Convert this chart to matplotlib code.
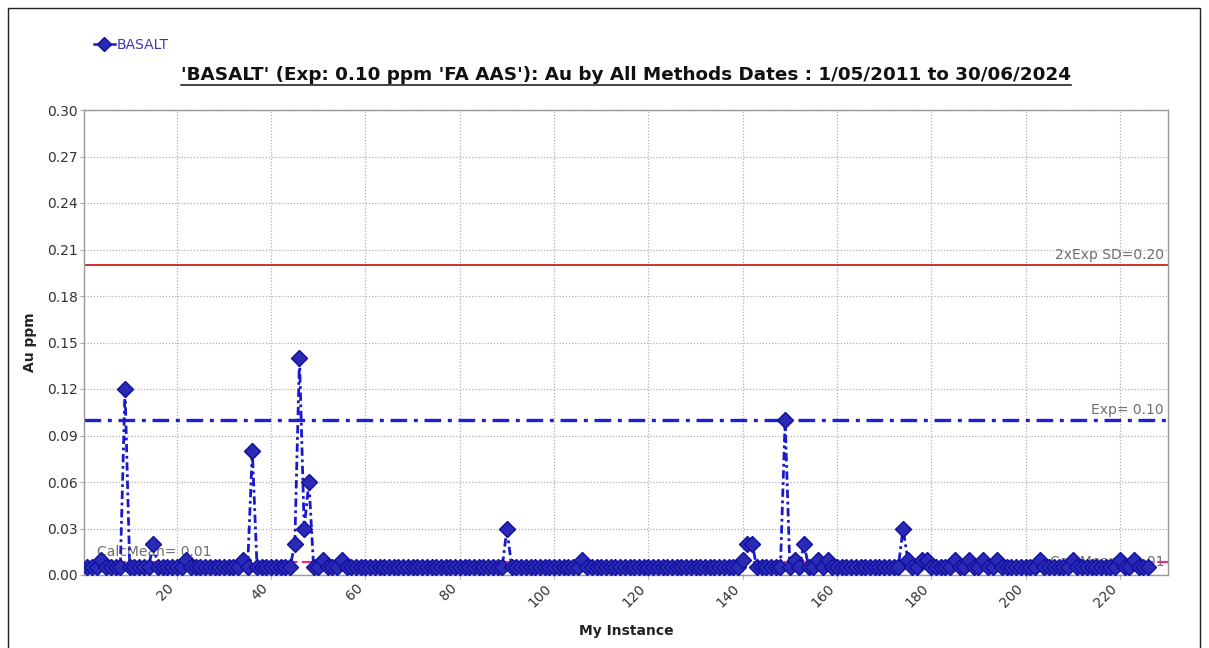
import matplotlib
matplotlib.use("Agg")
import matplotlib.pyplot as plt
from matplotlib.lines import Line2D
from matplotlib.patches import Rectangle

# ---------------- data ----------------
series_name = "BASALT"
title_text = "'BASALT' (Exp: 0.10 ppm 'FA AAS'): Au by All Methods Dates : 1/05/2011 to 30/06/2024"
x_label = "My Instance"
y_label = "Au ppm"

au_ppm = [
    # 1-20
    .005, .005, .005, .01, .005, .005, .005, .005, .12, .005,
    .005, .005, .005, .005, .02, .005, .005, .005, .005, .005,
    # 21-40
    .005, .01, .005, .005, .005, .005, .005, .005, .005, .005,
    .005, .005, .005, .01, .005, .08, .005, .005, .005, .005,
    # 41-60
    .005, .005, .005, .005, .02, .14, .03, .06, .005, .005,
    .01, .005, .005, .005, .01, .005, .005, .005, .005, .005,
    # 61-80
    .005, .005, .005, .005, .005, .005, .005, .005, .005, .005,
    .005, .005, .005, .005, .005, .005, .005, .005, .005, .005,
    # 81-100
    .005, .005, .005, .005, .005, .005, .005, .005, .005, .03,
    .005, .005, .005, .005, .005, .005, .005, .005, .005, .005,
    # 101-120
    .005, .005, .005, .005, .005, .01, .005, .005, .005, .005,
    .005, .005, .005, .005, .005, .005, .005, .005, .005, .005,
    # 121-140
    .005, .005, .005, .005, .005, .005, .005, .005, .005, .005,
    .005, .005, .005, .005, .005, .005, .005, .005, .005, .01,
    # 141-160
    .02, .02, .005, .005, .005, .005, .005, .005, .10, .005,
    .01, .005, .02, .005, .005, .01, .005, .01, .005, .005,
    # 161-180
    .005, .005, .005, .005, .005, .005, .005, .005, .005, .005,
    .005, .005, .005, .03, .01, .005, .005, .01, .01, .005,
    # 181-200
    .005, .005, .005, .005, .01, .005, .005, .01, .005, .005,
    .01, .005, .005, .01, .005, .005, .005, .005, .005, .005,
    # 201-220
    .005, .005, .01, .005, .005, .005, .005, .005, .005, .01,
    .005, .005, .005, .005, .005, .005, .005, .005, .005, .01,
    # 221-226
    .005, .005, .01, .005, .005, .005,
]
instances = list(range(1, len(au_ppm) + 1))

expected = 0.10
upper_limit = 0.20
calc_mean = 0.0085
exp_label = "Exp= 0.10"
upper_label = "2xExp SD=0.20"
mean_label = "CalcMean= 0.01"

y_ticks = [0.00, 0.03, 0.06, 0.09, 0.12, 0.15, 0.18, 0.21, 0.24, 0.27, 0.30]
x_ticks = [20, 40, 60, 80, 100, 120, 140, 160, 180, 200, 220]

# ---------------- figure ----------------
W, H = 1209, 648
fig = plt.figure(figsize=(W / 100, H / 100), dpi=100)
fig.patch.set_facecolor("white")
ax = fig.add_axes([84 / W, 1 - 575 / H, (1168 - 84) / W, (575 - 110) / H])

ax.set_xlim(0.3, 230.2)
ax.set_ylim(0, 0.30)

# reference lines
ax.axhline(upper_limit, color="#cc2020", lw=1.3, zorder=2)
ax.axhline(expected, color="#1f1fd6", lw=2.4,
           linestyle=(0, (5, 2, 1.2, 2)), zorder=2)
ax.axhline(calc_mean, color="#e0308a", lw=1.6,
           linestyle=(0, (5, 2)), zorder=2)

# annotation texts
lab_col = "#6e6e6e"
ax.text(229.3, upper_limit + 0.002, upper_label, ha="right", va="bottom",
        color=lab_col, fontsize=10, zorder=1)
ax.text(229.3, expected + 0.002, exp_label, ha="right", va="bottom",
        color=lab_col, fontsize=10, zorder=1)
ax.text(3, calc_mean + 0.002, mean_label, ha="left", va="bottom",
        color=lab_col, fontsize=10, zorder=1)
ax.text(229.5, calc_mean, mean_label, ha="right", va="center",
        color=lab_col, fontsize=10, zorder=1)

# series
ax.plot(instances, au_ppm, color="#1a1acc", lw=2.0,
        linestyle=(0, (3, 1.3, 1, 1.3)),
        marker="D", markersize=8, markerfacecolor="#2a2ab4",
        markeredgecolor="#1010a0", markeredgewidth=1.0, zorder=4,
        label=series_name)

# grid / ticks
ax.set_yticks(y_ticks)
ax.set_yticklabels([f"{v:.2f}" for v in y_ticks])
ax.set_xticks(x_ticks)
ax.set_xticklabels([str(v) for v in x_ticks], rotation=45, ha="right",
                   va="top")
ax.grid(True, color="#b0b0b0", linestyle=(0, (1, 1.5)), lw=0.9, zorder=0)
ax.set_axisbelow(True)
ax.tick_params(axis="both", length=3, width=0.8, color="#b0b0b0",
               labelcolor="#333333", labelsize=10, pad=1.5)
for s in ax.spines.values():
    s.set_color("#9a9a9a")
    s.set_linewidth(1.0)

ax.set_xlabel(x_label, fontsize=10, fontweight="bold", color="#222222",
              labelpad=10)
ax.set_ylabel(y_label, fontsize=10, fontweight="bold", color="#222222",
              labelpad=7)

# legend
leg = fig.legend(handles=[Line2D([0], [0], color="#1a1acc", lw=1.8,
                                 marker="D", markersize=7,
                                 markerfacecolor="#2a2ab4",
                                 markeredgecolor="#1010a0")],
                 labels=[series_name], loc="center left",
                 bbox_to_anchor=(94 / W, 1 - 45 / H), frameon=False,
                 handlelength=1.5, handletextpad=0.15, fontsize=10,
                 borderpad=0, borderaxespad=0)
for t in leg.get_texts():
    t.set_color("#3a3ab0")

# title (underlined)
title = fig.text(626 / W, 1 - 75 / H, title_text, ha="center", va="center",
                 fontsize=13.2, fontweight="bold", color="#111111")
fig.canvas.draw()
bb = title.get_window_extent()
y_ul = (bb.y0 - 1.0) / H
fig.add_artist(Line2D([bb.x0 / W, bb.x1 / W], [y_ul, y_ul],
                      color="#111111", lw=1.1, transform=fig.transFigure))

# outer border
fig.add_artist(Rectangle((8 / W, -0.01), (1200 - 8) / W, 1 - 8 / H + 0.01,
                         fill=False, edgecolor="#222222", lw=1.0,
                         transform=fig.transFigure))

fig.savefig("out.png", dpi=100)
